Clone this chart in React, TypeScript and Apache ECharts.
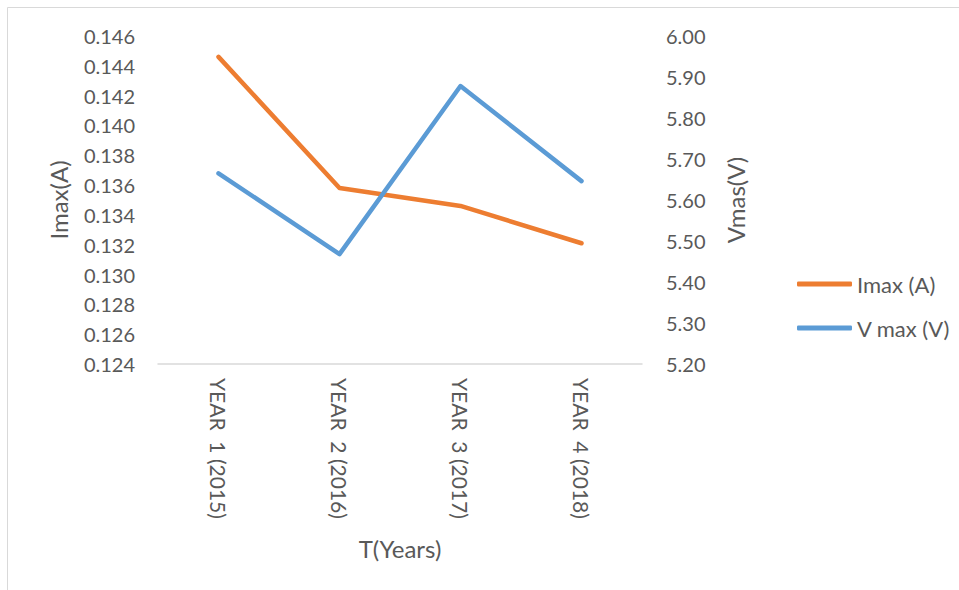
import React, { useEffect, useRef } from "react";
import * as echarts from "echarts";

const categories = ["YEAR  1 (2015)", "YEAR  2 (2016)", "YEAR  3 (2017)", "YEAR  4 (2018)"];
const imaxValues = [0.1446, 0.1358, 0.1346, 0.1321];
const vmaxValues = [5.665, 5.468, 5.878, 5.646];
const leftAxisRange = [0.124, 0.146, 0.002];
const rightAxisRange = [5.2, 6.0, 0.1];
const seriesNames = ["Imax (A)", "V max (V)"];

const FONT = "Lato, 'Liberation Sans', sans-serif";
const TEXT = "#595959";

export default function App() {
  const ref = useRef<HTMLDivElement>(null);
  useEffect(() => {
    if (!ref.current) return;
    const chart = echarts.init(ref.current, undefined, { renderer: "svg" });
    chart.setOption({
      animation: false,
      textStyle: { fontFamily: FONT },
      graphic: [
        {
          type: "rect",
          shape: { x: 7.5, y: 7.5, width: 1000, height: 1000 },
          style: { fill: "none", stroke: "#d9d9d9", lineWidth: 1 },
          silent: true,
        },
      ],
      grid: { left: 158, right: 317, top: 36, bottom: 226 },
      legend: {
        orient: "vertical",
        left: 792,
        top: 268,
        icon: "roundRect",
        itemWidth: 55,
        itemHeight: 5,
        itemGap: 22,
        textStyle: { fontFamily: FONT, fontSize: 22, color: TEXT, lineHeight: 22 },
        data: seriesNames,
      },
      xAxis: {
        type: "category",
        data: categories,
        boundaryGap: true,
        axisLine: { lineStyle: { color: "#d9d9d9", width: 1.5 } },
        axisTick: { show: false },
        axisLabel: {
          rotate: -90,
          margin: 14,
          fontSize: 21,
          color: TEXT,
          fontFamily: FONT,
          interval: 0,
        },
        name: "T(Years)",
        nameLocation: "middle",
        nameGap: 172,
        nameTextStyle: { fontSize: 24, color: TEXT, fontFamily: FONT },
      },
      yAxis: [
        {
          type: "value",
          min: leftAxisRange[0],
          max: leftAxisRange[1],
          interval: leftAxisRange[2],
          position: "left",
          axisLine: { show: false },
          axisTick: { show: false },
          splitLine: { show: false },
          axisLabel: {
            margin: 23,
            fontSize: 20,
            color: TEXT,
            fontFamily: FONT,
            formatter: (v: number) => v.toFixed(3),
          },
          name: "Imax(A)",
          nameLocation: "middle",
          nameGap: 88,
          nameTextStyle: { fontSize: 24, color: TEXT, fontFamily: FONT },
        },
        {
          type: "value",
          min: rightAxisRange[0],
          max: rightAxisRange[1],
          interval: rightAxisRange[2],
          position: "right",
          axisLine: { show: false },
          axisTick: { show: false },
          splitLine: { show: false },
          axisLabel: {
            margin: 24,
            fontSize: 20,
            color: TEXT,
            fontFamily: FONT,
            formatter: (v: number) => v.toFixed(2),
          },
          name: "Vmas(V)",
          nameLocation: "middle",
          nameGap: 81,
          nameRotate: 90,
          nameTextStyle: { fontSize: 24, color: TEXT, fontFamily: FONT },
        },
      ],
      series: [
        {
          name: seriesNames[0],
          type: "line",
          yAxisIndex: 0,
          data: imaxValues,
          symbol: "none",
          lineStyle: { color: "#ED7D31", width: 4.5, cap: "round", join: "round" },
          itemStyle: { color: "#ED7D31" },
        },
        {
          name: seriesNames[1],
          type: "line",
          yAxisIndex: 1,
          data: vmaxValues,
          symbol: "none",
          lineStyle: { color: "#5B9BD5", width: 4.5, cap: "round", join: "round" },
          itemStyle: { color: "#5B9BD5" },
        },
      ],
    });
    return () => chart.dispose();
  }, []);
  return (
    <div
      ref={ref}
      style={{ position: "absolute", left: 0, top: 0, width: 959, height: 590, background: "#fff" }}
    />
  );
}
